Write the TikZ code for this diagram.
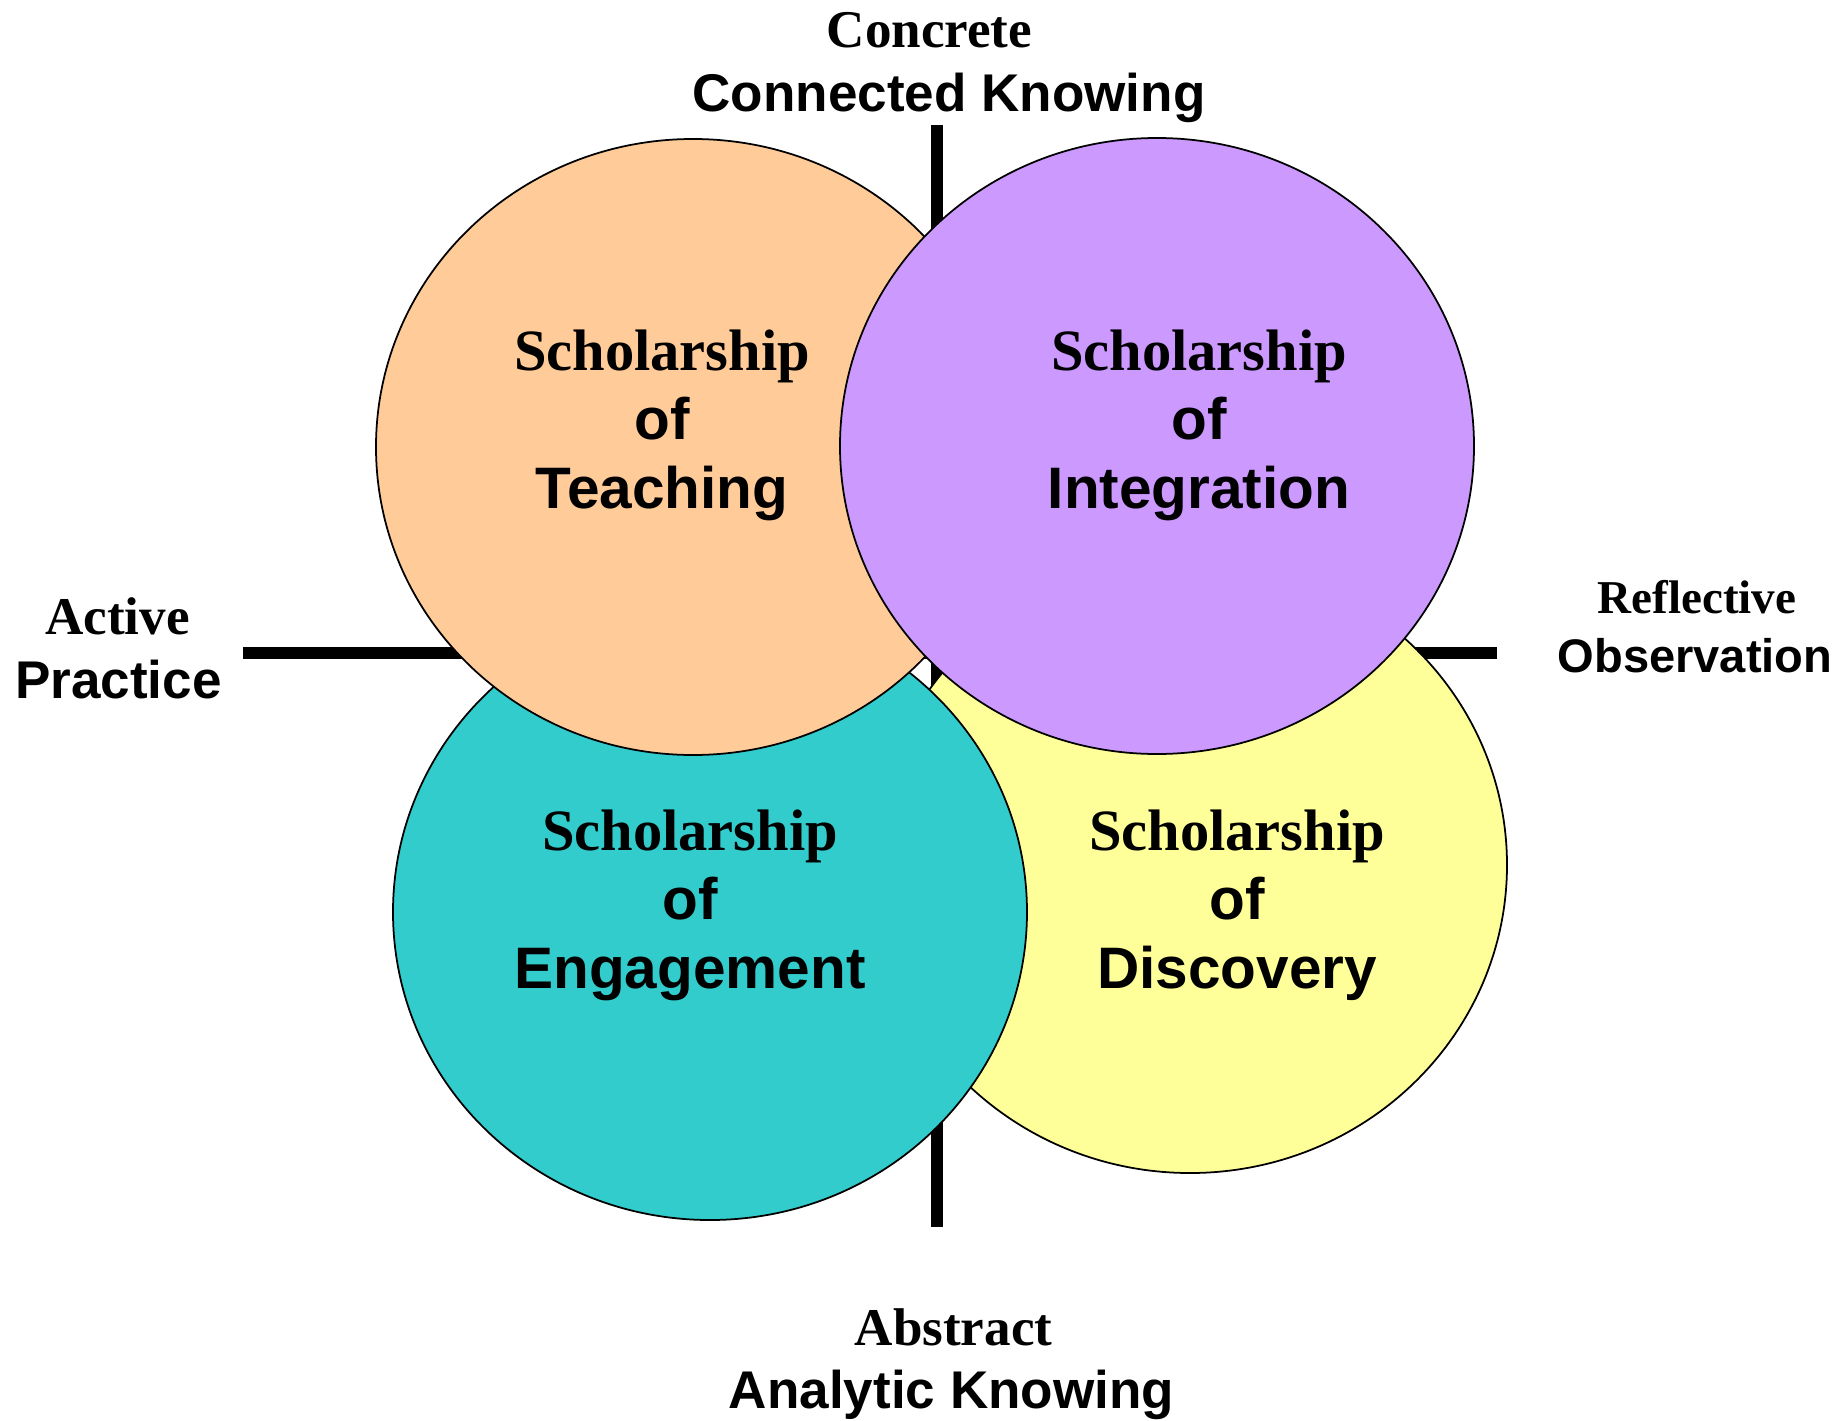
\documentclass[tikz,border=0pt]{standalone}
\usepackage{fontspec}
\setmainfont{Liberation Serif}
\setsansfont{Liberation Sans}
\usepackage{tikz}

\definecolor{peach}{HTML}{FFCC99}
\definecolor{lilac}{HTML}{CC99FF}
\definecolor{aqua}{HTML}{33CCCC}
\definecolor{lemon}{HTML}{FFFF99}

\tikzset{
  axis/.style={line width=3.4pt},
  blob/.style={draw=black,line width=0.5pt},
  inner/.style={align=center,font=\sffamily\bfseries\fontsize{16.65}{19.6}\selectfont},
  serifpole/.style={anchor=base,font=\rmfamily\bfseries\fontsize{15.1}{18}\selectfont},
  sanspole/.style={anchor=base,font=\sffamily\bfseries\fontsize{15.1}{18}\selectfont},
}

\begin{document}
\begin{tikzpicture}
\useasboundingbox (-9.37,-7.67) rectangle (9.03,6.53);

% the two axes, under the circles
\draw[axis] (0,5.28) -- (0,-5.74);
\draw[axis] (-6.94,0) -- (5.60,0);

% circles, back to front
\foreach \x/\y/\col in {2.53/-2.12/lemon, -2.27/-2.59/aqua, -2.44/2.06/peach, 2.20/2.07/lilac}
{
\filldraw[blob,fill=\col] (\x,\y) ellipse (3.17 and 3.08);
}

\node[inner] (teaching) at (-2.75,2.275) {{\rmfamily Scholarship}\\of\\Teaching};
\node[inner] (integration) at (2.62,2.275) {{\rmfamily Scholarship}\\of\\Integration};
\node[inner] (engagement) at (-2.47,-2.525) {{\rmfamily Scholarship}\\of\\Engagement};
\node[inner] (discovery) at (3.00,-2.525) {{\rmfamily Scholarship}\\of\\Discovery};

% ends of the axes
\node[serifpole] (concrete) at (-0.075,6.05) {Concrete};
\node[sanspole] (connected) at (0.12,5.41) {Connected Knowing};
\node[serifpole] (active) at (-8.195,0.19) {Active};
\node[sanspole] (practice) at (-8.185,-0.45) {Practice};
\node[serifpole,font=\rmfamily\bfseries\fontsize{13.4}{16}\selectfont] (reflective) at (7.60,0.40) {Reflective};
\node[sanspole,font=\sffamily\bfseries\fontsize{13.4}{16}\selectfont] (observation) at (7.58,-0.19) {Observation};
\node[serifpole] (abstract) at (0.165,-6.92) {Abstract};
\node[sanspole] (analytic) at (0.145,-7.55) {Analytic Knowing};
\end{tikzpicture}
\end{document}
